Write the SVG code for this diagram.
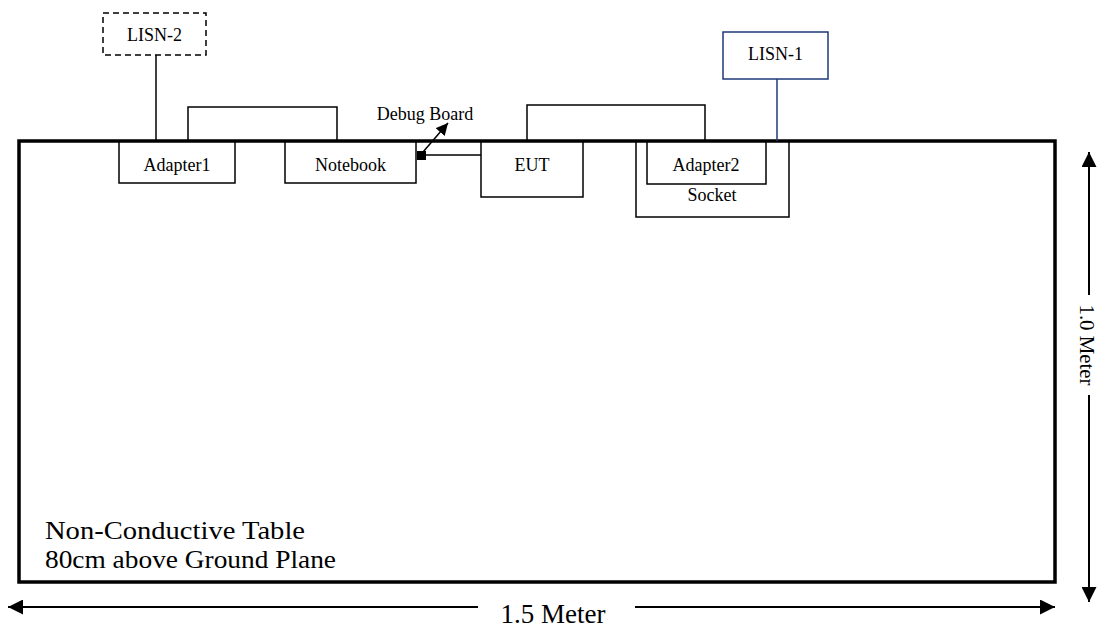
<svg xmlns="http://www.w3.org/2000/svg" width="1109" height="633" viewBox="0 0 1109 633">
<defs>
<style>
.box{fill:#fff;stroke:#000;stroke-width:1.5}
.ln{fill:none;stroke:#000;stroke-width:1.5}
.dim{fill:none;stroke:#000;stroke-width:2}
.navy{fill:none;stroke:#1f3a7a;stroke-width:1.5}
.lbl{font-family:"Liberation Serif","Times New Roman",serif;font-size:18px;fill:#000;text-anchor:middle}
.big{font-family:"Liberation Serif","Times New Roman",serif;font-size:25px;fill:#000}
</style>
<marker id="ah" viewBox="0 0 12 12" refX="12" refY="6" markerWidth="12" markerHeight="12" markerUnits="userSpaceOnUse" orient="auto"><path d="M0,0 L12,6 L0,12 z" fill="#000"/></marker>
<marker id="dh" viewBox="0 0 15 15" refX="15" refY="7.5" markerWidth="15" markerHeight="15" markerUnits="userSpaceOnUse" orient="auto"><path d="M0,0 L15,7.5 L0,15 z" fill="#000"/></marker>
</defs>
<g id="table">
<rect x="19" y="141" width="1036" height="441" fill="#fff" stroke="#000" stroke-width="3.5"/>
<text class="big" x="45" y="539" textLength="260" lengthAdjust="spacingAndGlyphs">Non-Conductive Table</text>
<text class="big" x="45" y="568" textLength="291" lengthAdjust="spacingAndGlyphs">80cm above Ground Plane</text>
</g>
<g id="connectors">
<line class="ln" x1="156" y1="55" x2="156" y2="141"/>
<polyline class="ln" points="188,141 188,107 337,107 337,141"/>
<polyline class="ln" points="527,141 527,105 705,105 705,141"/>
<line class="ln" x1="424" y1="155" x2="481" y2="155"/>
<line class="ln" x1="423" y1="152" x2="448" y2="123" stroke-width="2" marker-end="url(#ah)"/>
<line class="navy" x1="777" y1="79" x2="777" y2="141"/>
</g>
<g id="lisn2">
<rect x="103" y="13" width="103" height="42" fill="#fff" stroke="#000" stroke-width="1.5" stroke-dasharray="6,4"/>
<text class="lbl" x="154.5" y="41">LISN-2</text>
</g>
<g id="lisn1">
<rect x="723" y="32" width="105" height="47" fill="#fff" stroke="#1f3a7a" stroke-width="1.5"/>
<text class="lbl" x="775.5" y="60">LISN-1</text>
</g>
<g id="adapter1">
<rect class="box" x="119" y="142" width="116" height="41"/>
<text class="lbl" x="177" y="171">Adapter1</text>
</g>
<g id="notebook">
<rect class="box" x="285" y="142" width="131" height="41"/>
<text class="lbl" x="350.5" y="171">Notebook</text>
</g>
<g id="debug">
<rect x="417" y="151" width="9" height="9" fill="#000"/>
<text class="lbl" x="425" y="120">Debug Board</text>
</g>
<g id="eut">
<rect class="box" x="481" y="142" width="102" height="55"/>
<text class="lbl" x="532" y="171">EUT</text>
</g>
<g id="socket">
<rect class="box" x="636" y="142" width="153" height="75"/>
<text class="lbl" x="712" y="201">Socket</text>
</g>
<g id="adapter2">
<rect class="box" x="647" y="142" width="119" height="42"/>
<text class="lbl" x="706" y="171">Adapter2</text>
</g>
<g id="dim-width">
<line class="dim" x1="478" y1="607" x2="8" y2="607" marker-end="url(#dh)"/>
<line class="dim" x1="635" y1="607" x2="1055" y2="607" marker-end="url(#dh)"/>
<text class="big" x="553" y="623" text-anchor="middle" style="font-size:27px">1.5 Meter</text>
</g>
<g id="dim-height">
<line class="dim" x1="1089" y1="295" x2="1089" y2="152" marker-end="url(#dh)"/>
<line class="dim" x1="1089" y1="395" x2="1089" y2="602" marker-end="url(#dh)"/>
<text class="big" transform="translate(1080,345) rotate(90)" text-anchor="middle" style="font-size:21px" textLength="81" lengthAdjust="spacingAndGlyphs">1.0 Meter</text>
</g>
</svg>
